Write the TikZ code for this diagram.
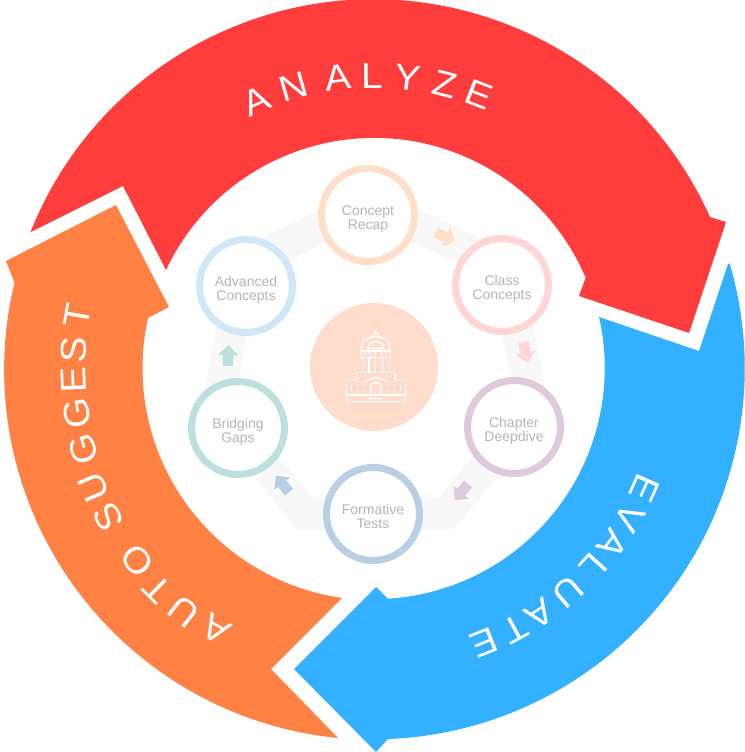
\documentclass[tikz,border=0pt]{standalone}
\usepackage{fontspec}
\setmainfont{Liberation Sans}
\newfontfamily\letterfont[FakeStretch=1.08]{Liberation Sans}
\usetikzlibrary{shapes.arrows,calc}
\definecolor{analyzered}{HTML}{FF3D3D}
\definecolor{evaluateblue}{HTML}{33B0FF}
\definecolor{suggestorange}{HTML}{FF8144}
\definecolor{bandgray}{HTML}{F8F8F8}
\definecolor{hubpeach}{HTML}{FFDCCB}
\definecolor{labelgray}{HTML}{B5B5B5}
\definecolor{recapring}{HTML}{FFDFC8}
\definecolor{classring}{HTML}{FFD5D6}
\definecolor{chapterring}{HTML}{DFCADB}
\definecolor{formativering}{HTML}{B9D0E4}
\definecolor{bridgingring}{HTML}{BCE0DE}
\definecolor{advancedring}{HTML}{CFE7F7}
\tikzset{
    ring/.style={circle,draw=#1,line width=7pt,minimum size=93pt,inner sep=0pt,fill=white,
        align=center,text=labelgray,text height=32pt,text depth=3pt,font=\fontsize{14}{14}\selectfont},
    bigletter/.style={text=white,inner sep=0pt,text height=26pt,text depth=0pt,
        font=\letterfont\fontsize{36}{36}\selectfont},
    smallarrow/.style={single arrow,fill=#1,inner sep=5pt,minimum width=20pt,minimum height=21pt,
        single arrow head extend=5pt,single arrow tip angle=90},
    iconline/.style={draw=white,line width=1.5pt,line cap=round,line join=round},
}
\begin{document}
\begin{tikzpicture}[x=1pt,y=1pt]
    \useasboundingbox (0,0) rectangle (744,752);
    \coordinate (hubc) at (374,384);
    % the three big arrows
    \fill[analyzered] (31,520) -- (123,566) -- (166,482) arc[start angle=154.8,end angle=23.1,radius=230]
        -- (579,456) -- (689,419) -- (726,530) -- (710,535) arc[start angle=24.2,end angle=158.4,radius=369] -- cycle;
    \fill[evaluateblue] (728,488) -- (699,401) -- (599,435) arc[start angle=12.8,end angle=-86.5,radius=231]
        -- (376,165) -- (294,83) -- (376,0) -- (388,13) arc[start angle=-87.8,end angle=16.4,radius=371] -- cycle;
    \fill[suggestorange] (342,154) -- (271,83) -- (338,14) arc[start angle=264.4,end angle=166.4,radius=370]
        -- (6,491) -- (116,547) -- (169,445) -- (148,434) arc[start angle=167.5,end angle=262.1,radius=232] -- cycle;
    % letters on the arrows
    \foreach \ch/\ang in {A/113.8,N/106,A/97.2,L/90.4,Y/83.4,Z/76,E/69}
        \node[bigletter,rotate=\ang-90] (analyze\ang) at ($(hubc)+(\ang:293)$) {\ch};
    \foreach \ch/\ang in {E/-23.9,V/-30.5,A/-36.5,L/-42.1,U/-49,A/-56.1,T/-61.6,E/-68.2}
        \node[bigletter,rotate=\ang-90] (evaluate\ang) at ($(hubc)+(\ang:297)$) {\ch};
    \foreach \ch/\ang/\rad in {T/169.9/302,S/176.6/301,E/182.3/301,G/188.6/301,G/195.7/302,U/203/305,
            S/209.4/305,O/219.2/306,T/225.5/310,U/232.1/310,A/238.8/306}
        \node[bigletter,rotate=\ang-90] (suggest\ang) at ($(hubc)+(\ang:\rad)$) {\ch};
    % gray band behind the rings
    \coordinate (band1) at (368,548);
    \coordinate (band2) at (505,485);
    \coordinate (band3) at (533,345);
    \coordinate (band4) at (446,238);
    \coordinate (band5) at (305,238);
    \coordinate (band6) at (218,345);
    \coordinate (band7) at (243,487);
    \draw[bandgray,line width=32pt,line join=miter] (band1) -- (band2) -- (band3) -- (band4)
        -- (band5) -- (band6) -- (band7) -- cycle;
    % rings
    \node[ring=recapring] (recap) at (368,537) {Concept\\Recap};
    \node[ring=classring] (class) at (502,467) {Class\\Concepts};
    \node[ring=chapterring] (chapter) at (514,325) {Chapter\\Deepdive};
    \node[ring=formativering] (formative) at (373,238) {Formative\\Tests};
    \node[ring=bridgingring] (bridging) at (238,324) {Bridging\\Gaps};
    \node[ring=advancedring] (advanced) at (246,466) {Advanced\\Concepts};
    % small arrows
    \node[smallarrow=recapring,rotate=-25] (arrowa) at (443,516) {};
    \node[smallarrow=classring,rotate=-79] (arrowb) at (525,402) {};
    \node[smallarrow=chapterring,rotate=230] (arrowc) at (463,262) {};
    \node[smallarrow=formativering,rotate=128] (arrowd) at (284,266) {};
    \node[smallarrow=bridgingring,rotate=87] (arrowe) at (228,394) {};
    % hub and building
    \node[circle,fill=hubpeach,minimum size=128pt,inner sep=0pt] (hub) at (374,385) {};
    \begin{scope}[shift={(300,452)},x=0.3333pt,y=-0.3333pt]
        \draw[iconline] (140,285) rectangle (316,305);
        \draw[iconline] (140,285) -- (140,238) -- (170,238) -- (170,218) -- (285,218) -- (285,238) -- (316,238) -- (316,285);
        \draw[iconline] (212,285) -- (212,262) arc[start angle=180,end angle=360,radius=15.5] -- (243,285);
        \draw[iconline] (193,245) -- (227,232) -- (263,245);
        \draw[iconline] (207,295) -- (243,295);
        \foreach \tickx in {155,172,190,263,283,302}
            \draw[iconline] (\tickx,258) -- (\tickx,275);
        \foreach \colx in {188,207,227,247,268}
            \draw[iconline] (\colx,172) -- (\colx,215);
        \draw[iconline] (182,153) rectangle (272,172);
        \foreach \dotx in {194,210,227,244,260}
            \draw[iconline] (\dotx,160) -- (\dotx,165);
        \draw[iconline] (185,153) -- (185,135) arc[start angle=180,end angle=360,x radius=42,y radius=25] -- (269,153);
        \draw[iconline] (205,145) -- (205,140) arc[start angle=180,end angle=360,x radius=22,y radius=15] -- (249,145) -- cycle;
        \draw[iconline] (218,108) arc[start angle=180,end angle=360,radius=9];
        \draw[iconline] (227,99) -- (227,92);
    \end{scope}
\end{tikzpicture}
\end{document}
